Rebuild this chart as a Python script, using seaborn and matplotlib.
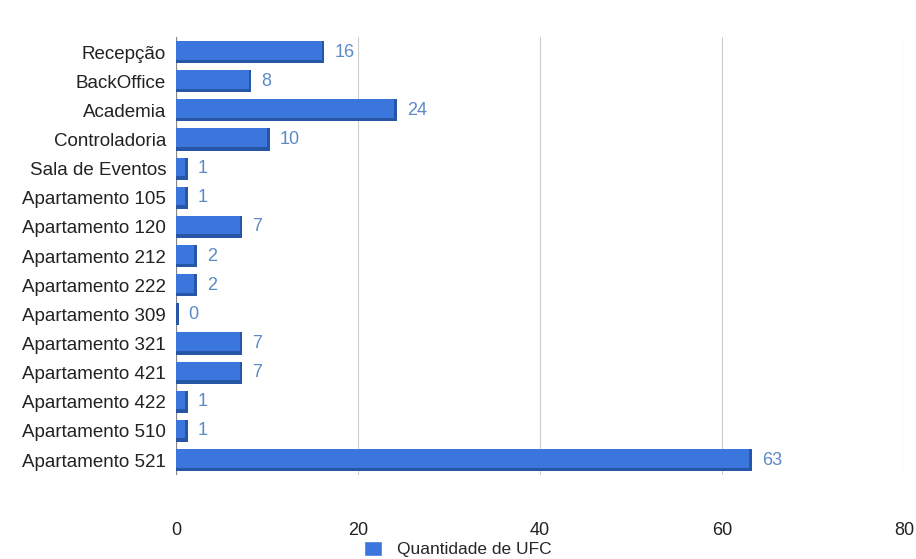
import pandas as pd
import matplotlib.pyplot as plt
import seaborn as sns
from matplotlib.patches import Patch


# Data
setores = [
    "Recepção", "BackOffice", "Academia", "Controladoria", "Sala de Eventos",
    "Apartamento 105", "Apartamento 120", "Apartamento 212", "Apartamento 222",
    "Apartamento 309", "Apartamento 321", "Apartamento 421", "Apartamento 422",
    "Apartamento 510", "Apartamento 521"
]
quantidade = [16, 8, 24, 10, 1, 1, 7, 2, 2, 0, 7, 7, 1, 1, 63]
x_ticks = [0, 20, 40, 60, 80]

df = pd.DataFrame({"Setor": setores, "Quantidade de UFC": quantidade})


sns.set_theme(style="white")
plt.rcParams['font.family'] = ['Liberation Sans', 'DejaVu Sans']

fig = plt.figure(figsize=(9.16, 5.59), dpi=100)
ax = fig.add_axes([0.192, 0.151, 0.795, 0.782])

bar_color = "#3a76dc"
shadow_color = "#2856a6"

# darker bar underneath gives the 3D edge
sns.barplot(
    data=df, y="Setor", x="Quantidade de UFC",
    color=shadow_color, saturation=1, width=0.76, linewidth=0,
    ax=ax, zorder=2
)
n_shadow = len(ax.patches)
sns.barplot(
    data=df, y="Setor", x="Quantidade de UFC",
    color=bar_color, saturation=1, width=0.64, linewidth=0,
    ax=ax, zorder=3
)
for p in ax.patches[:n_shadow]:
    p.set_width(p.get_width() + 0.3)
for p in ax.patches[n_shadow:]:
    p.set_y(p.get_y() - 0.06)

# value labels
for i, v in enumerate(quantidade):
    ax.text(v + 1.4, i, str(v), va="center", ha="left",
            fontsize=13, color="#5b8ac9", zorder=4)

ax.set_xlim(0, 80)
ax.set_xticks(x_ticks)
ax.set_xticklabels([str(t) for t in x_ticks], fontsize=13, color="#222222")
ax.tick_params(axis="x", length=0, pad=34)
ax.tick_params(axis="y", length=0, pad=7, labelsize=13.5, labelcolor="#222222")
ax.set_xlabel("")
ax.set_ylabel("")
ax.xaxis.grid(True, color="#cccccc", linewidth=0.8, zorder=0)
ax.set_axisbelow(True)
for s in ax.spines.values():
    s.set_visible(False)
ax.axvline(0, color="#888888", linewidth=0.9, zorder=1)

fig.legend(
    handles=[Patch(facecolor=bar_color, label="Quantidade de UFC")],
    loc="center", bbox_to_anchor=(0.5, 0.018), frameon=False,
    fontsize=12.5, handlelength=1.0, handleheight=1.0, handletextpad=0.9
)

fig.savefig("out.png", dpi=100)
